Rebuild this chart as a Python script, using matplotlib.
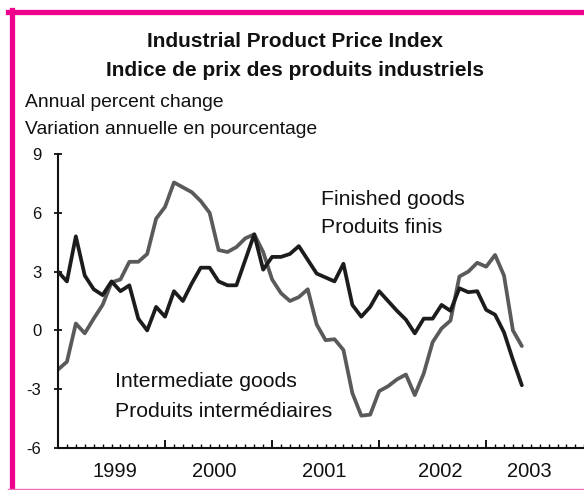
import matplotlib
matplotlib.use("Agg")
import matplotlib.pyplot as plt
from matplotlib.lines import Line2D
from matplotlib.ticker import MultipleLocator

plt.rcParams["font.family"] = ["Liberation Sans", "DejaVu Sans"]
plt.rcParams["axes.unicode_minus"] = False  # plain hyphen like the original

# Monthly year-over-year % change, Jan 1999 .. May 2003
finished = [3.0, 2.5, 4.8, 2.8, 2.1, 1.8, 2.5, 2.0, 2.3, 0.6,
            0.0, 1.2, 0.7, 2.0, 1.5, 2.4, 3.2, 3.2, 2.5, 2.3,
            2.3, 3.6, 4.9, 3.1, 3.75, 3.75, 3.9, 4.3, 3.6, 2.9,
            2.7, 2.5, 3.4, 1.3, 0.7, 1.2, 2.0, 1.5, 1.0, 0.55,
            -0.15, 0.6, 0.6, 1.3, 1.0, 2.15, 1.95, 2.0, 1.05, 0.8,
            -0.1, -1.5, -2.8]
intermediate = [-2.0, -1.6, 0.35, -0.15, 0.6, 1.3, 2.45, 2.6, 3.5, 3.5,
                3.9, 5.7, 6.3, 7.55, 7.3, 7.05, 6.6, 6.0, 4.1, 4.0,
                4.25, 4.7, 4.9, 4.0, 2.6, 1.9, 1.5, 1.7, 2.1, 0.3,
                -0.5, -0.45, -1.0, -3.2, -4.35, -4.3, -3.1, -2.85, -2.5, -2.25,
                -3.3, -2.2, -0.6, 0.1, 0.5, 2.75, 3.0, 3.45, 3.25, 3.85,
                2.8, 0.0, -0.8]
months = list(range(len(finished)))
years = ["1999", "2000", "2001", "2002", "2003"]
year_label_pos = [6.4, 17.5, 29.9, 42.8, 52.8]

W, H = 584, 490
fig = plt.figure(figsize=(W / 100, H / 100), dpi=100)


def fx(px):
    return px / W


def fy(py):
    return 1 - py / H


# axes: x from pixel 58 (month 0) with ~8.92 px per month, y from 448 (-6) to 154 (9)
ax_left, ax_bottom = fx(58), fy(448)
ax_w, ax_h = (60 * 8.92) / W, (448 - 154) / H
ax = fig.add_axes([ax_left, ax_bottom, ax_w, ax_h])

ax.plot(months, intermediate, color="#5a5a5a", lw=2.7, solid_joinstyle="round",
        solid_capstyle="round", zorder=2)
ax.plot(months, finished, color="#1c1c1c", lw=2.7, solid_joinstyle="round",
        solid_capstyle="round", zorder=3)

ax.set_xlim(0, 60)
ax.set_ylim(-6, 9)
for s in ("top", "right"):
    ax.spines[s].set_visible(False)
for s in ("left", "bottom"):
    ax.spines[s].set_linewidth(1.5)
    ax.spines[s].set_color("#111111")

ax.yaxis.set_major_locator(MultipleLocator(3))
ax.tick_params(axis="y", direction="inout", length=6, width=1.3, pad=9,
               labelsize=12, colors="#111111")
ax.xaxis.set_major_locator(MultipleLocator(12))
ax.xaxis.set_minor_locator(MultipleLocator(1))
ax.tick_params(axis="x", which="major", direction="in", length=6, width=1.3,
               labelbottom=False)
ax.tick_params(axis="x", which="minor", direction="in", length=3.2, width=1.0)

yb = (fy(477) - ax_bottom) / ax_h
for lab, pos in zip(years, year_label_pos):
    ax.text(pos, yb, lab, transform=ax.get_xaxis_transform(), ha="center",
            va="baseline", fontsize=14.5, color="#111111")

# titles and notes
fig.text(fx(295), fy(47), "Industrial Product Price Index", ha="center",
         va="baseline", fontsize=15, fontweight="bold", color="#111111")
fig.text(fx(295), fy(76), "Indice de prix des produits industriels", ha="center",
         va="baseline", fontsize=15, fontweight="bold", color="#111111")
fig.text(fx(25), fy(107), "Annual percent change", ha="left", va="baseline",
         fontsize=13.9, color="#111111")
fig.text(fx(25), fy(134), "Variation annuelle en pourcentage", ha="left",
         va="baseline", fontsize=13.9, color="#111111")

fig.text(fx(321), fy(205), "Finished goods", ha="left", va="baseline",
         fontsize=15.3, color="#111111")
fig.text(fx(321), fy(233), "Produits finis", ha="left", va="baseline",
         fontsize=15.3, color="#111111")
fig.text(fx(115), fy(387), "Intermediate goods", ha="left", va="baseline",
         fontsize=15.3, color="#111111")
fig.text(fx(115), fy(417), "Produits intermédiaires", ha="left", va="baseline",
         fontsize=15.3, color="#111111")

# magenta frame (right side cropped off in the original)
pink = "#EC008C"
fig.add_artist(Line2D([fx(8), 1], [fy(12.5), fy(12.5)], color=pink, lw=3.8,
                      transform=fig.transFigure))
fig.add_artist(Line2D([fx(11.5), fx(11.5)], [fy(10), 0], color=pink, lw=3.8,
                      transform=fig.transFigure))
fig.add_artist(Line2D([fx(8), 1], [fy(488.5), fy(488.5)], color="#F070B8", lw=1.0,
                      transform=fig.transFigure))

fig.savefig("out.png", dpi=100)
